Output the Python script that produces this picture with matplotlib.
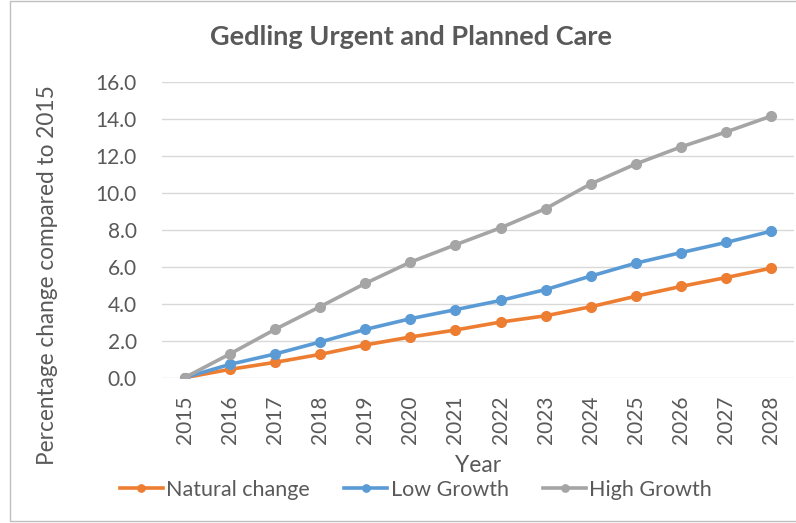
import matplotlib
matplotlib.use("Agg")
import matplotlib.pyplot as plt
from matplotlib.patches import Rectangle

# Daten
years = [2015, 2016, 2017, 2018, 2019, 2020, 2021, 2022, 2023, 2024, 2025, 2026, 2027, 2028]
natural = [0.0, 0.45, 0.83, 1.26, 1.77, 2.20, 2.58, 3.01, 3.35, 3.84, 4.41, 4.94, 5.42, 5.93]
low = [0.0, 0.72, 1.28, 1.93, 2.61, 3.19, 3.68, 4.18, 4.77, 5.50, 6.20, 6.77, 7.32, 7.93]
high = [0.0, 1.28, 2.61, 3.84, 5.10, 6.25, 7.19, 8.11, 9.15, 10.49, 11.57, 12.49, 13.30, 14.16]

plt.rcParams['font.family'] = ['Lato', 'DejaVu Sans']
txt = "#595959"

fig = plt.figure(figsize=(7.96, 5.23), dpi=100)
ax = fig.add_axes([162 / 796, 1 - 377.7 / 523, 632 / 796, (377.7 - 82) / 523])

# Rahmen um das Diagramm
fig.patches.append(Rectangle((10 / 796, 2 / 523), 1.0, 1 - 3 / 523, transform=fig.transFigure,
                             fill=False, edgecolor="#BFBFBF", linewidth=1.0))

x = list(range(len(years)))
ax.plot(x, natural, color="#ED7D31", lw=2.6, marker="o", ms=7, label="Natural change", zorder=3)
ax.plot(x, low, color="#5B9BD5", lw=2.6, marker="o", ms=7, label="Low Growth", zorder=4)
ax.plot(x, high, color="#A5A5A5", lw=2.6, marker="o", ms=7, label="High Growth", zorder=5)

ax.set_xlim(-0.5, len(years) - 0.5)
ax.set_ylim(0, 16)
ax.set_yticks([0, 2, 4, 6, 8, 10, 12, 14, 16])
ax.set_yticklabels([f"{v:.1f}" for v in ax.get_yticks()])
ax.set_xticks(x)
ax.set_xticklabels([str(y) for y in years], rotation=90)
ax.tick_params(axis="both", length=0, colors=txt, labelsize=15)
ax.tick_params(axis="y", pad=18)
ax.tick_params(axis="x", pad=13)
ax.grid(axis="y", color="#D9D9D9", lw=1.0)
ax.set_axisbelow(True)
for s in ax.spines.values():
    s.set_visible(False)

fig.text(411 / 796, 1 - 37 / 523, "Gedling Urgent and Planned Care", ha="center", va="center",
         fontsize=19.5, fontweight="bold", color=txt)
fig.text(48 / 796, 1 - 275 / 523, "Percentage change compared to 2015", rotation=90,
         ha="center", va="center", fontsize=16.3, color=txt)
fig.text(478 / 796, 1 - 465 / 523, "Year", ha="center", va="center", fontsize=16.5, color=txt)

fig.legend(loc="center", bbox_to_anchor=(416 / 796, 1 - 490 / 523), ncol=3, frameon=False,
           fontsize=15.5, labelcolor=txt, handlelength=2.0, handletextpad=0.15, columnspacing=1.6,
           markerscale=0.75)

plt.savefig("out.png", dpi=100)
